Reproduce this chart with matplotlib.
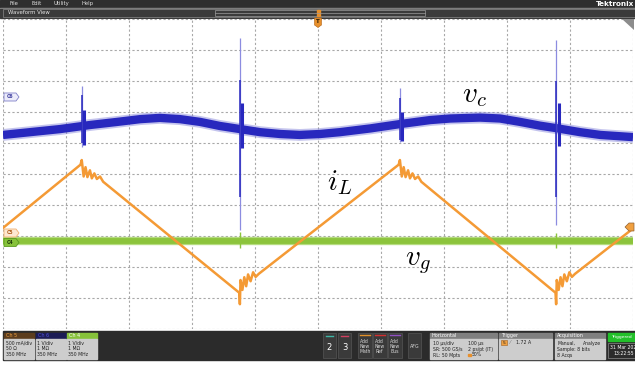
import matplotlib.pyplot as plt
from matplotlib.patches import Rectangle, Polygon

plt.rcParams["mathtext.fontset"] = "cm"

# ── Trace data (time in µs, vertical position in divisions) ─────────────────
# inductor current i_L (Ch 5): triangle with ringing after each switching edge
IL_T = [0.0, 12.3, 12.5, 12.8, 13.1, 13.4, 13.8, 14.1, 14.5, 14.9, 15.4, 15.9,
        37.5, 37.6, 37.7, 38.0, 38.3, 38.6, 38.9, 39.3, 39.7, 40.1, 40.6,
        62.8, 63.0, 63.3, 63.6, 63.9, 64.3, 64.6, 65.0, 65.4, 65.9, 66.4,
        87.7, 87.8, 87.9, 88.2, 88.5, 88.8, 89.1, 89.5, 89.9, 90.3, 90.8,
        100.0]
IL_D = [-1.74, 0.30, 0.45, -0.08, 0.22, -0.10, 0.12, -0.14, 0.02, -0.16, -0.08, -0.25,
        -3.83, -4.20, -3.42, -3.74, -3.33, -3.62, -3.24, -3.46, -3.17, -3.32, -3.22,
        0.30, 0.45, -0.08, 0.22, -0.10, 0.12, -0.14, 0.02, -0.16, -0.08, -0.25,
        -3.83, -4.20, -3.42, -3.74, -3.33, -3.62, -3.24, -3.46, -3.17, -3.32, -3.22,
        -1.76]

# capacitor voltage v_c (Ch 6): slow ripple of the noisy band centre
VC_T = [0.0, 4.3, 9.1, 13.8, 18.1, 21.8, 24.9, 28.1, 31.3, 34.4, 37.6, 40.8,
        44.0, 47.1, 50.3, 53.5, 58.3, 63.0, 67.8, 71.0, 75.7, 78.9, 82.1, 85.2,
        87.8, 91.6, 94.8, 100.0]
VC_D = [1.26, 1.35, 1.45, 1.58, 1.68, 1.77, 1.81, 1.77, 1.68, 1.55, 1.45, 1.35,
        1.29, 1.26, 1.29, 1.35, 1.47, 1.61, 1.74, 1.79, 1.82, 1.79, 1.68, 1.56,
        1.48, 1.35, 1.26, 1.19]

# switching spikes on v_c
SPIKE_T = [12.5, 37.6, 63.0, 87.8]
SPIKE_TOP = [2.84, 4.39, 2.77, 4.32]
SPIKE_BOT = [0.87, -1.81, 1.03, -1.65]
SPIKE_CORE_TOP = [2.55, 3.03, 2.45, 3.00]
SPIKE_CORE_BOT = [1.00, -0.74, 1.10, -0.74]
BURST_TOP = [2.05, 2.30, 2.00, 2.30]
BURST_BOT = [0.95, 0.85, 1.05, 0.90]

# grid voltage v_g (Ch 4): flat noisy band
VG_T = [0.0, 100.0]
VG_D = [-2.16, -2.16]
VG_SPIKE_T = [37.6, 87.8]
VG_SPIKE_TOP = [-1.88, -1.90]
VG_SPIKE_BOT = [-2.40, -2.38]

# trace label positions
LABELS = ["$v_c$", "$i_L$", "$v_g$"]
LABEL_T = [74.9, 53.5, 65.9]
LABEL_D = [2.55, -0.29, -2.84]

ORANGE = "#f49a35"
BLUE = "#2828be"
GREEN = "#8cc43c"

fig = plt.figure(figsize=(6.35, 3.66), dpi=100)
fig.patch.set_facecolor("white")

# ── Instrument chrome (pixel layout axes) ──────────────────────────────────
bg = fig.add_axes([0, 0, 1, 1])
bg.set_xlim(0, 635)
bg.set_ylim(366, 0)
bg.axis("off")

bg.add_patch(Rectangle((0, 0), 635, 7.5, color="#2e2e2e"))
bg.add_patch(Rectangle((0, 7.5), 635, 1.0, color="#8c8c8c"))
bg.add_patch(Rectangle((0, 8.5), 635, 9.0, color="#3b3b3b"))
bg.add_patch(Rectangle((3, 8.8), 632, 8.4, fill=False, ec="#8a8a8a", lw=0.5))
bg.add_patch(Rectangle((215, 10.0), 210, 5.5, fill=False, ec="#9a9a9a", lw=0.5))
bg.plot([215, 425], [12.7, 12.7], color="#9a9a9a", lw=0.5)
for x, s in [(9, "File"), (31, "Edit"), (53, "Utility"), (82, "Help")]:
    bg.text(x, 3.8, s, color="#e0e0e0", fontsize=3.8, va="center")
bg.text(634, 4.0, "Tektronix", color="white", fontsize=5.2, fontweight="bold",
        ha="right", va="center")
bg.text(8, 13.0, "Waveform View", color="#e6e6e6", fontsize=3.9, va="center")
bg.add_patch(Rectangle((316.5, 9.5), 3.5, 6, color="#e8902c"))

# bottom status bar
bg.add_patch(Rectangle((3, 331), 632, 29, color="#2b2b2b"))
chans = [(4, "Ch 5", "#5c3d1e", "#f0a040", ["500 mA/div", "50 Ω", "350 MHz"]),
         (35.5, "Ch 6", "#1c1c55", "#5050d8", ["1 V/div", "1 MΩ", "350 MHz"]),
         (67, "Ch 4", "#86c23a", "white", ["1 V/div", "1 MΩ", "350 MHz"])]
for x, name, hc, tc, lines in chans:
    bg.add_patch(Rectangle((x, 332.5), 30, 6.5, color=hc))
    bg.add_patch(Rectangle((x, 339), 30, 20, color="#cdcdcd"))
    bg.text(x + 2, 335.8, name, color=tc, fontsize=3.5, va="center")
    for i, s in enumerate(lines):
        bg.text(x + 1.5, 342.8 + 5.8 * i, s, color="#202020", fontsize=3.3, va="center")

for x, s, lc in [(323, "2", "#3fb5a5"), (338, "3", "#d04060")]:
    bg.add_patch(Rectangle((x, 333), 13, 25, fc="#3a3a3a", ec="#555555", lw=0.5))
    bg.plot([x + 3, x + 10], [335.5, 335.5], color=lc, lw=1.0)
    bg.text(x + 6.5, 347, s, color="white", fontsize=6, ha="center", va="center")
for x, s, lc in [(358, "Add\nNew\nMath", "#e0902a"), (373, "Add\nNew\nRef", "#d03030"),
                 (388, "Add\nNew\nBus", "#9050c0")]:
    bg.add_patch(Rectangle((x, 333), 13.5, 25, fc="#3a3a3a", ec="#555555", lw=0.5))
    bg.plot([x + 2, x + 11.5], [334.5, 334.5], color=lc, lw=1.0)
    bg.text(x + 6.75, 346.5, s, color="#d8d8d8", fontsize=3.3, ha="center",
            va="center", linespacing=0.95)
bg.add_patch(Rectangle((408, 333), 13, 25, fc="#3a3a3a", ec="#555555", lw=0.5))
bg.text(414.5, 346, "AFG", color="#d8d8d8", fontsize=3.4, ha="center", va="center")

boxes = [(430, 67, "Horizontal"), (499, 53, "Trigger"), (555, 50, "Acquisition")]
for x, w, title in boxes:
    bg.add_patch(Rectangle((x, 332.5), w, 6.5, color="#808080"))
    bg.add_patch(Rectangle((x, 339), w, 20, color="#cdcdcd"))
    bg.text(x + 2, 335.8, title, color="white", fontsize=3.5, va="center")
txt = dict(color="#202020", fontsize=3.3, va="center")
bg.text(433, 343, "10 µs/div", **txt)
bg.text(468, 343, "100 µs", **txt)
bg.text(433, 349, "SR: 500 GS/s", **txt)
bg.text(468, 349, "2 ps/pt (IT)", **txt)
bg.text(433, 355, "RL: 50 Mpts", **txt)
bg.add_patch(Rectangle((468, 353.5), 2.5, 2.5, color="#e8902c"))
bg.text(472, 355, "50%", **txt)
bg.add_patch(Rectangle((501, 340), 6, 5, fc="#f0a040", ec="#a06020", lw=0.4))
bg.text(504, 342.6, "5", color="#202020", fontsize=3.2, ha="center", va="center")
bg.text(510, 342.8, "⁄", color="#707070", fontsize=3.5, va="center")
bg.text(516, 342.8, "1.72 A", **txt)
bg.text(557, 343, "Manual,", **txt)
bg.text(583, 343, "Analyze", **txt)
bg.text(557, 349, "Sample: 8 bits", **txt)
bg.text(557, 355, "8 Acqs", **txt)
bg.add_patch(Rectangle((608, 332.5), 27, 8.5, color="#22c02a"))
bg.text(621, 336.8, "Triggered", color="white", fontsize=3.2, ha="center", va="center")
bg.add_patch(Rectangle((608, 343), 27, 15, fc="#2b2b2b", ec="#8a8a8a", lw=0.5))
bg.text(610, 347.5, "31 Mar 202", color="white", fontsize=3.3, va="center")
bg.text(613, 353.5, "13:22:55", color="white", fontsize=3.3, va="center")

# ── Waveform graticule ─────────────────────────────────────────────────────
ax = fig.add_axes([3 / 635, (366 - 329) / 366, 630 / 635, 310 / 366])
ax.set_facecolor("white")
ax.set_xlim(0, 100)
ax.set_ylim(-5, 5)
ax.set_xticks(range(0, 101, 10))
ax.set_yticks(range(-5, 6))
ax.tick_params(length=0, labelbottom=False, labelleft=False)
ax.grid(True, color="#a8a8a8", linestyle=(0, (2, 2)), linewidth=0.8)
for sp in ax.spines.values():
    sp.set_visible(False)

# v_c band with switching spikes
ax.plot(VC_T, VC_D, color="#7d7dd8", lw=8.5, alpha=0.45, solid_capstyle="butt", zorder=2)
ax.plot(VC_T, VC_D, color=BLUE, lw=6.0, solid_capstyle="butt", zorder=3)
ax.vlines(SPIKE_T, SPIKE_BOT, SPIKE_TOP, color="#8c8ce0", lw=0.9, zorder=3)
ax.vlines(SPIKE_T, SPIKE_CORE_BOT, SPIKE_CORE_TOP, color=BLUE, lw=1.1, zorder=4)
ax.vlines([t + 0.4 for t in SPIKE_T], BURST_BOT, BURST_TOP, color=BLUE, lw=2.2, zorder=4)

# v_g band
ax.plot(VG_T, VG_D, color="#b5dc80", lw=6.0, solid_capstyle="butt", zorder=2)
ax.plot(VG_T, VG_D, color=GREEN, lw=4.2, solid_capstyle="butt", zorder=3)
ax.vlines(VG_SPIKE_T, VG_SPIKE_BOT, VG_SPIKE_TOP, color=GREEN, lw=1.0, zorder=3)

# i_L triangle
ax.plot(IL_T, IL_D, color=ORANGE, lw=1.8, zorder=5)

for s, t, d in zip(LABELS, LABEL_T, LABEL_D):
    ax.text(t, d, s, fontsize=21, ha="center", va="center", color="black", zorder=6)

# ── Channel / trigger markers (pixel layout overlay) ───────────────────────
fg = fig.add_axes([0, 0, 1, 1], facecolor="none")
fg.set_xlim(0, 635)
fg.set_ylim(366, 0)
fg.axis("off")
markers = [(97, "C6", "#ececfa", "#8080c8", "#4040a0"),
           (233, "C5", "#fde8d2", "#f0b070", "#b06020"),
           (242.5, "C4", "#86c23a", "#5a9a20", "#1e3a08")]
for y, s, fc, ec, tc in markers:
    fg.add_patch(Polygon([(4, y - 4), (16, y - 4), (19, y), (16, y + 4), (4, y + 4)],
                         closed=True, fc=fc, ec=ec, lw=0.6))
    fg.text(10.5, y, s, color=tc, fontsize=3.3, fontweight="bold", ha="center", va="center")
fg.add_patch(Polygon([(314.5, 18), (321.5, 18), (321.5, 25), (318, 27.5), (314.5, 25)],
                     closed=True, fc="#e8902c", ec="#b06010", lw=0.4))
fg.text(318, 21.8, "T", color="#2a1a00", fontsize=4, fontweight="bold", ha="center", va="center")
fg.add_patch(Polygon([(625, 227), (629, 223), (634, 223), (634, 231), (629, 231)],
                     closed=True, fc="#f0a040", ec="#906030", lw=0.5))
fg.add_patch(Polygon([(622, 19), (634, 19), (634, 30)], closed=True, fc="#8c8c8c"))

fig.savefig("out.png", dpi=100)
